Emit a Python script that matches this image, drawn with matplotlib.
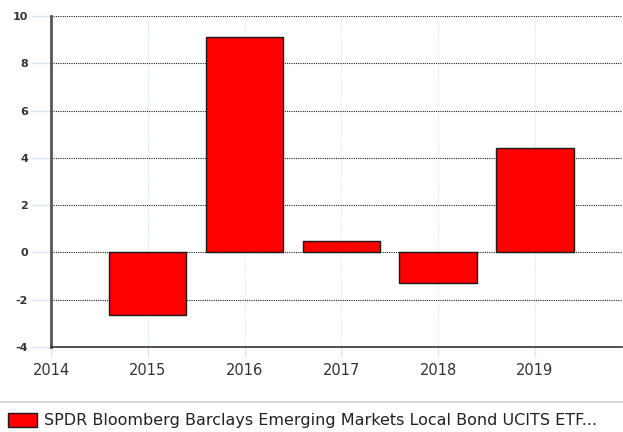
import matplotlib
matplotlib.use("Agg")
import matplotlib.pyplot as plt
from matplotlib.patches import Rectangle
from matplotlib.lines import Line2D

# yearly returns (%)
years = [2015, 2016, 2017, 2018, 2019]
returns = [-2.63, 9.1, 0.47, -1.3, 4.43]
series_name = "SPDR Bloomberg Barclays Emerging Markets Local Bond UCITS ETF..."
x_ticks = [2014, 2015, 2016, 2017, 2018, 2019]
y_ticks = [-4, -2, 0, 2, 4, 6, 8, 10]

W, H = 623, 432
fig = plt.figure(figsize=(W / 100, H / 100), dpi=100)
ax = fig.add_axes([51 / W, (H - 347) / H, (622 - 51) / W, (347 - 16) / H])

ax.bar(years, returns, width=0.8, color="#ff0000", edgecolor="#1a1a1a",
       linewidth=1.0, zorder=3)

ax.set_xlim(2014, 2019.9)
ax.set_ylim(-4, 10)
ax.set_xticks(x_ticks)
ax.set_yticks(y_ticks)
ax.set_xticklabels([str(t) for t in x_ticks], fontsize=10.5, color="#333333")
ax.set_yticklabels([str(t) for t in y_ticks], fontsize=8, color="#333333",
                   fontweight="bold")

# dotted horizontal grid, faint vertical grid
for y in y_ticks[1:]:
    ax.axhline(y, color="#222222", linestyle=(0, (1, 1)), linewidth=0.8, zorder=1)
for x in x_ticks[1:]:
    ax.axvline(x, color="#d6e6f7", linestyle=(0, (1, 1)), linewidth=0.8, zorder=0)

ax.tick_params(axis="y", length=14.5, color="#d6e6f7", width=1, pad=2)
ax.tick_params(axis="x", length=7.5, color="#d6e6f7", width=1, pad=4)

for s in ["top", "right"]:
    ax.spines[s].set_visible(False)
ax.spines["left"].set_color("#555555")
ax.spines["left"].set_linewidth(2)
ax.spines["bottom"].set_color("#333333")
ax.spines["bottom"].set_linewidth(1.2)

# separator line and legend at the bottom
fig.add_artist(Line2D([0, 1], [(H - 402) / H] * 2, color="#d0d0d0", linewidth=1.2))
fig.add_artist(Rectangle((8 / W, (H - 427) / H), 29 / W, 14 / H, facecolor="#ff0000",
                         edgecolor="#1a1a1a", linewidth=1.0))
fig.text(44 / W, (H - 420) / H, series_name, fontsize=11.5, color="#222222",
         va="center", ha="left")

fig.savefig("out.png", dpi=100)
